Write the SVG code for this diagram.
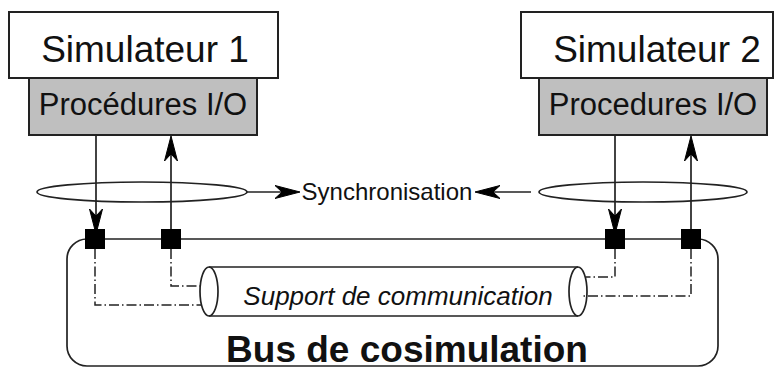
<svg xmlns="http://www.w3.org/2000/svg" xmlns:xlink="http://www.w3.org/1999/xlink" width="774" height="369" viewBox="0 0 774 369">
<style>
.box{fill:#fff;stroke:#222;stroke-width:2}
.io{fill:#bfbfbf;stroke:#222;stroke-width:2}
.ln{fill:none;stroke:#222;stroke-width:1.7}
.dd{fill:none;stroke:#222;stroke-width:1.5;stroke-dasharray:10 3 1.5 3}
.t{font-family:"Liberation Sans",Arial,sans-serif;fill:#111}
.sq{fill:#000}
.ah{fill:#000;stroke:#000;stroke-width:1;stroke-linejoin:miter}
</style>
<defs>
<path id="arrow" d="M0,0 L-25,-6.5 L-18,0 L-25,6.5 Z"/>
</defs>
<g id="bus">
<rect class="ln" x="67" y="239" width="651" height="127" rx="20"/>
<text class="t" x="407" y="362" font-size="37" font-weight="bold" text-anchor="middle">Bus de cosimulation</text>
</g>
<g id="sim1">
<rect class="box" x="9" y="12" width="269" height="66"/>
<text class="t" x="145" y="62" font-size="37" text-anchor="middle">Simulateur 1</text>
</g>
<g id="io1">
<rect class="io" x="29" y="78" width="228" height="57"/>
<text class="t" x="143" y="115" font-size="31" text-anchor="middle">Procédures I/O</text>
</g>
<g id="sim2">
<rect class="box" x="521" y="12" width="252" height="66"/>
<text class="t" x="657" y="62" font-size="37" text-anchor="middle">Simulateur 2</text>
</g>
<g id="io2">
<rect class="io" x="539" y="78" width="228" height="57"/>
<text class="t" x="653" y="115" font-size="31" text-anchor="middle">Procedures I/O</text>
</g>
<g id="support">
<path class="ln" d="M209,267 L578,267 M209,316 L578,316"/>
<ellipse class="ln" cx="209" cy="291.5" rx="9" ry="24.5" fill="#fff"/>
<ellipse class="ln" cx="578" cy="291.5" rx="9" ry="24.5"/>
<text class="t" x="398" y="305" font-size="26" font-style="italic" text-anchor="middle">Support de communication</text>
</g>
<g id="sync">
<ellipse class="ln" cx="142" cy="192" rx="105" ry="10"/>
<ellipse class="ln" cx="643" cy="192" rx="104" ry="10"/>
<text class="t" x="387" y="200" font-size="24" text-anchor="middle">Synchronisation</text>
</g>
<g id="connectors">
<line class="ln" x1="96" y1="135" x2="96" y2="220"/>
<line class="ln" x1="171" y1="229" x2="171" y2="150"/>
<line class="ln" x1="615" y1="135" x2="615" y2="220"/>
<line class="ln" x1="691" y1="229" x2="691" y2="150"/>
<line class="ln" x1="247" y1="192" x2="285" y2="192"/>
<line class="ln" x1="531" y1="192" x2="490" y2="192"/>
<use class="ah" xlink:href="#arrow" href="#arrow" transform="translate(96,234) rotate(90)"/>
<use class="ah" xlink:href="#arrow" href="#arrow" transform="translate(171,136) rotate(-90)"/>
<use class="ah" xlink:href="#arrow" href="#arrow" transform="translate(615,234) rotate(90)"/>
<use class="ah" xlink:href="#arrow" href="#arrow" transform="translate(691,136) rotate(-90)"/>
<use class="ah" xlink:href="#arrow" href="#arrow" transform="translate(300,192)"/>
<use class="ah" xlink:href="#arrow" href="#arrow" transform="translate(475,192) rotate(180)"/>
<path class="dd" d="M95,249 L95,305 L201,305"/>
<path class="dd" d="M171,249 L171,286 L203,286"/>
<path class="dd" d="M615,249 L615,277 L586,277"/>
<path class="dd" d="M691,249 L691,296 L581,296"/>
<rect class="sq" x="85" y="229" width="20" height="20"/>
<rect class="sq" x="161" y="229" width="20" height="20"/>
<rect class="sq" x="605" y="229" width="20" height="20"/>
<rect class="sq" x="681" y="229" width="20" height="20"/>
</g>
</svg>
